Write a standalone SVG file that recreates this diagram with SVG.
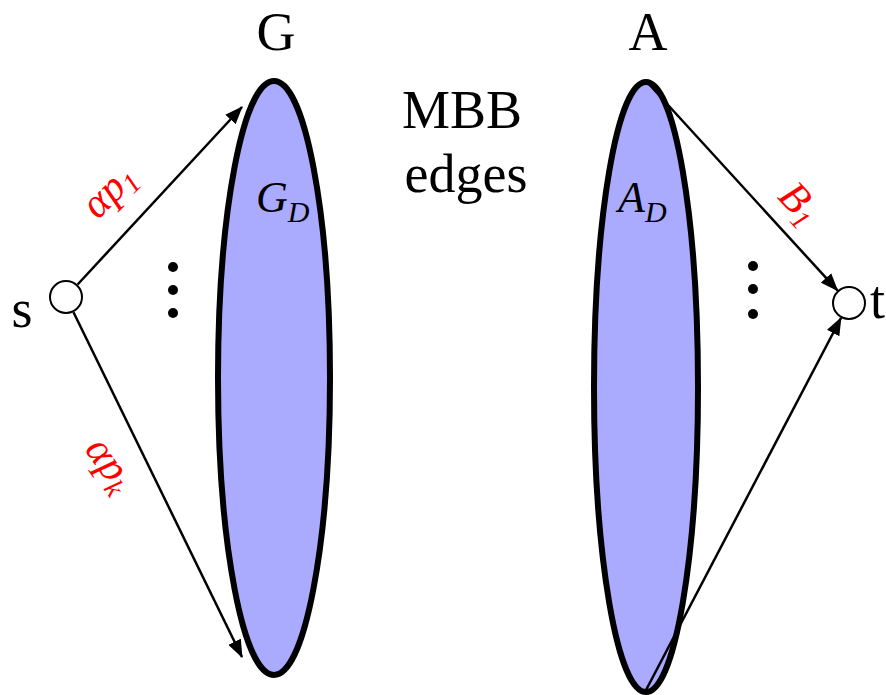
<svg xmlns="http://www.w3.org/2000/svg" width="886" height="695" viewBox="0 0 886 695">
<defs>
<style>
.set{fill:#AAAAFF;stroke:#000;stroke-width:6}
.node{fill:#fff;stroke:#000;stroke-width:2}
.edge{stroke:#000;stroke-width:2.5;fill:none;marker-end:url(#ah)}
.lbl{font-size:54px;fill:#000}
.math{font-style:italic;fill:#000}
.red{fill:#FF0000}
.dot{fill:#000}
</style>
<marker id="ah" markerUnits="userSpaceOnUse" markerWidth="18" markerHeight="14" viewBox="0 0 18 14" refX="17" refY="7" orient="auto">
<path d="M0,0 L18,7 L0,14 Z" fill="#000"/>
</marker>
</defs>
<g font-family="Liberation Serif, DejaVu Serif, serif">
<g id="G">
<ellipse class="set" cx="274" cy="378" rx="56" ry="297"/>
<text class="lbl" x="276" y="50" text-anchor="middle">G</text>
<text class="math" x="256" y="212" font-size="44">G<tspan font-size="30" dy="10">D</tspan></text>
</g>
<g id="A">
<ellipse class="set" cx="646" cy="387" rx="52" ry="305"/>
<text class="lbl" x="648" y="50" text-anchor="middle">A</text>
<text class="math" x="618" y="212" font-size="44">A<tspan font-size="30" dy="10">D</tspan></text>
</g>
<g id="mbb">
<text class="lbl" x="462" y="128" text-anchor="middle">MBB</text>
<text class="lbl" x="466" y="192" text-anchor="middle">edges</text>
</g>
<g id="s">
<circle class="node" cx="66" cy="297" r="16"/>
<text class="lbl" x="22" y="327" text-anchor="middle">s</text>
</g>
<g id="t">
<circle class="node" cx="849" cy="303" r="16"/>
<text class="lbl" x="870" y="318">t</text>
</g>
<g id="dotsG">
<circle class="dot" cx="173" cy="267" r="5"/>
<circle class="dot" cx="173" cy="290" r="5"/>
<circle class="dot" cx="173" cy="313" r="5"/>
</g>
<g id="dotsA">
<circle class="dot" cx="753" cy="266" r="5"/>
<circle class="dot" cx="753" cy="289" r="5"/>
<circle class="dot" cx="753" cy="314" r="5"/>
</g>
<g id="connectors">
<line class="edge" x1="77.6" y1="284.5" x2="242" y2="107"/>
<line class="edge" x1="73.5" y1="312.3" x2="242" y2="657"/>
<line class="edge" x1="647" y1="82" x2="837.5" y2="290.4"/>
<line class="edge" x1="645" y1="692" x2="841" y2="318"/>
</g>
<g id="edge-labels">
<text class="math red" font-size="42" transform="translate(118,200) rotate(-45)" text-anchor="middle">α<tspan>p</tspan><tspan font-size="28" dy="7">1</tspan></text>
<text class="math red" font-size="42" transform="translate(100,472) rotate(55)" text-anchor="middle">α<tspan>p</tspan><tspan font-size="28" dy="7">k</tspan></text>
<text class="math red" font-size="42" transform="translate(790,212) rotate(47)" text-anchor="middle">B<tspan font-size="28" dy="7">1</tspan></text>
</g>
</g>
</svg>
